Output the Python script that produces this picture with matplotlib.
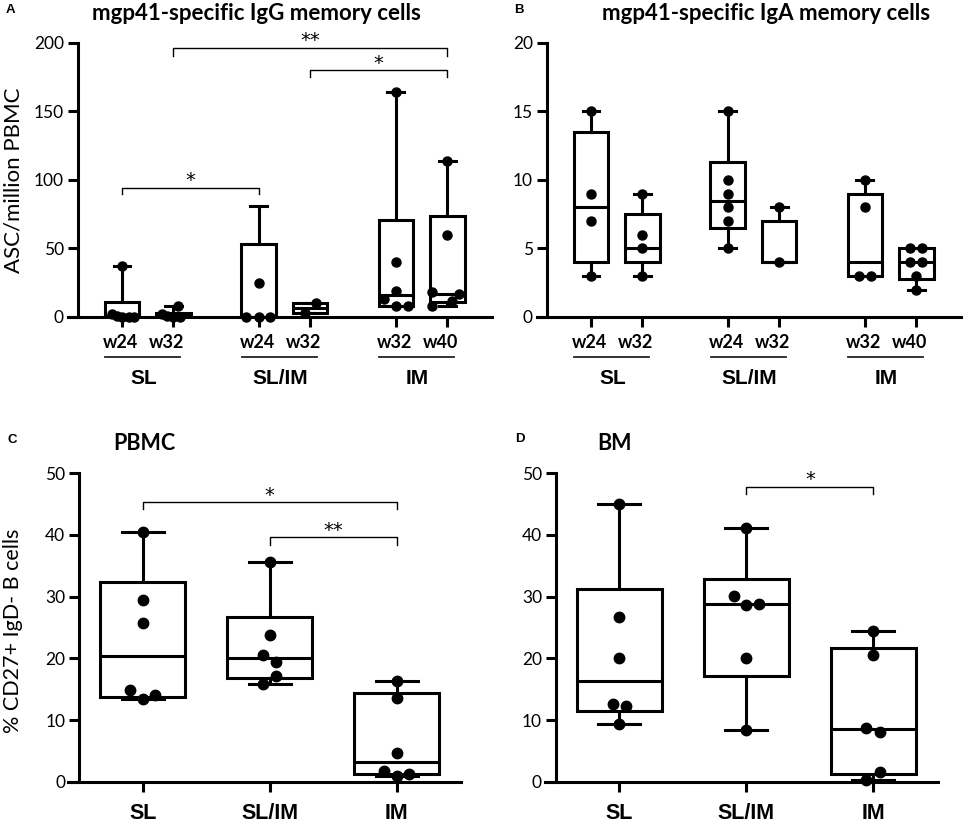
import matplotlib
matplotlib.use("Agg")
import matplotlib.pyplot as plt

plt.rcParams['font.family'] = ['Lato', 'DejaVu Sans']

# ---- Panel A: IgG memory cells (ASC/million PBMC) ----
week_labels = ["w24", "w32", "w24", "w32", "w32", "w40"]
group_labels = ["SL", "SL/IM", "IM"]

igg_points = [
    [37, 2, 1, 0, 0, 0],
    [8, 2, 1, 0, 0],
    [25, 0, 0, 0],
    [10, 3],
    [164, 40, 19, 13, 8, 8],
    [114, 60, 18, 17, 12, 8],
]
igg_jitter = [
    [0, -0.2, -0.1, 0, 0.13, 0.23],
    [0.08, -0.23, -0.13, 0, 0.13],
    [0, -0.25, 0, 0.22],
    [0.12, -0.1],
    [0, 0, 0, -0.23, 0, 0.23],
    [0, 0, -0.29, 0.23, 0.1, -0.29],
]
igg_min = [0, 0, 0, 3, 8, 8]
igg_q1 = [0, 0, 0, 3, 8, 11]
igg_med = [1, 1, 0, 6.5, 16, 17]
igg_q3 = [11, 3, 53, 10, 71, 74]
igg_max = [37, 8, 81, 10, 164, 114]

# ---- Panel B: IgA memory cells ----
iga_points = [
    [15, 9, 7, 3],
    [9, 6, 5, 3],
    [15, 10, 9, 8, 7, 5],
    [8, 4],
    [10, 8, 3, 3],
    [5, 5, 4, 4, 3, 2],
]
iga_jitter = [
    [0, 0, 0, 0],
    [0, 0, 0, 0],
    [0, 0, 0, 0, 0, 0],
    [0, 0],
    [0, 0, -0.12, 0.12],
    [-0.13, 0.12, -0.13, 0.12, 0, 0],
]
iga_min = [3, 3, 5, 4, 3, 2]
iga_q1 = [4, 4, 6.5, 4, 3, 2.75]
iga_med = [8, 5, 8.5, 4, 4, 4]
iga_q3 = [13.5, 7.5, 11.3, 7, 9, 5]
iga_max = [15, 9, 15, 8, 10, 5]

# ---- Panel C: PBMC % CD27+ IgD- B cells ----
cat_labels = ["SL", "SL/IM", "IM"]
pbmc_points = [
    [40.5, 29.5, 25.7, 14.8, 14.0, 13.4],
    [35.7, 23.8, 20.6, 19.4, 17.1, 15.8],
    [16.3, 13.6, 4.7, 1.8, 1.2, 0.9],
]
pbmc_jitter = [
    [0, 0, 0, -0.1, 0.1, 0],
    [0, 0, -0.05, 0.05, 0.05, -0.05],
    [0, 0, 0, -0.1, 0.1, 0],
]
pbmc_min = [13.4, 15.8, 0.9]
pbmc_q1 = [13.8, 16.8, 1.25]
pbmc_med = [20.3, 20.0, 3.2]
pbmc_q3 = [32.3, 26.7, 14.3]
pbmc_max = [40.5, 35.7, 16.3]

# ---- Panel D: BM ----
bm_points = [
    [45, 26.7, 20.1, 12.6, 12.2, 9.3],
    [41.2, 30.1, 28.7, 28.8, 20.1, 8.4],
    [24.5, 20.5, 8.7, 8.1, 1.6, 0.3],
]
bm_jitter = [
    [0, 0, 0, -0.05, 0.05, 0],
    [0, -0.1, 0, 0.1, 0, 0],
    [0, 0, -0.06, 0.05, 0.05, -0.06],
]
bm_min = [9.3, 8.4, 0.3]
bm_q1 = [11.45, 17.1, 1.2]
bm_med = [16.3, 28.8, 8.5]
bm_q3 = [31.3, 32.9, 21.6]
bm_max = [45, 41.2, 24.5]

pos6 = [0, 1, 2.66, 3.66, 5.33, 6.33]
pos3 = [0, 1, 2]

LW = 2.2
ARIAL = ['Liberation Sans', 'DejaVu Sans']


def draw_boxes(ax, positions, points, jitter, mins, q1s, meds, q3s, maxs, msize):
    stats = []
    for i in range(len(positions)):
        stats.append(dict(whislo=mins[i], q1=q1s[i], med=meds[i], q3=q3s[i], whishi=maxs[i]))
    ax.bxp(stats, positions=positions, widths=0.67, capwidths=0.33, showfliers=False,
           patch_artist=True,
           boxprops=dict(facecolor="white", edgecolor="black", linewidth=LW),
           whiskerprops=dict(color="black", linewidth=LW),
           capprops=dict(color="black", linewidth=LW),
           medianprops=dict(color="black", linewidth=LW))
    for p, vals, jit in zip(positions, points, jitter):
        xs = [p + j for j in jit]
        ax.plot(xs, vals, "o", color="black", markersize=msize, zorder=5, clip_on=False)


def style_axes(ax, xlim, spine_x, ymax, ystep):
    ax.set_xlim(*xlim)
    ax.set_ylim(0, ymax)
    ax.spines["top"].set_visible(False)
    ax.spines["right"].set_visible(False)
    ax.spines["left"].set_position(("data", spine_x))
    ax.spines["left"].set_linewidth(LW)
    ax.spines["bottom"].set_linewidth(LW)
    ax.set_yticks(range(0, ymax + 1, ystep))
    ax.tick_params(axis="both", length=7, width=LW, labelsize=12.5)
    ax.tick_params(axis="y", pad=3)
    ax.set_facecolor("none")


def bracket(ax, x1, x2, y, drop, label):
    ax.plot([x1, x1, x2, x2], [y - drop, y, y, y - drop], color="black", lw=1.0, clip_on=False)
    ax.annotate(label, xy=((x1 + x2) / 2, y), xytext=(0, 5), textcoords="offset points",
                ha="center", va="center", fontsize=14, family=['DejaVu Sans'],
                annotation_clip=False)


def group_axis(ax, positions):
    tr = ax.get_xaxis_transform()
    ax.set_xticks(positions)
    ax.set_xticklabels([])
    for k in range(3):
        left = positions[2 * k]
        center = left + 0.42
        ax.text(center - 0.45, -0.094, week_labels[2 * k], transform=tr, ha="center",
                va="center", fontsize=13, fontweight="bold")
        ax.text(center + 0.45, -0.094, week_labels[2 * k + 1], transform=tr, ha="center",
                va="center", fontsize=13, fontweight="bold")
        ax.plot([left - 0.33, left + 1.13], [-0.147, -0.147], transform=tr, color="#222222",
                lw=1.3, clip_on=False)
        ax.text(center, -0.224, group_labels[k], transform=tr, ha="center", va="center",
                fontsize=15, fontweight="bold", family=ARIAL)


fig = plt.figure(figsize=(9.65, 8.25), dpi=100)

# Panel A
axA = fig.add_axes([0.0705, 0.6158, 0.4394, 0.3321])
draw_boxes(axA, pos6, igg_points, igg_jitter, igg_min, igg_q1, igg_med, igg_q3, igg_max, 6.5)
style_axes(axA, (-1.05, 7.2), -0.86, 200, 50)
group_axis(axA, pos6)
bracket(axA, pos6[1], pos6[5], 196.5, 6, "**")
bracket(axA, pos6[3], pos6[5], 180, 5, "*")
bracket(axA, pos6[0], pos6[2], 94.5, 4.5, "*")

# Panel B
axB = fig.add_axes([0.5565, 0.6158, 0.4394, 0.3321])
draw_boxes(axB, pos6, iga_points, iga_jitter, iga_min, iga_q1, iga_med, iga_q3, iga_max, 6.5)
style_axes(axB, (-1.05, 7.2), -0.86, 20, 5)
group_axis(axB, pos6)

# Panel C
axC = fig.add_axes([0.0709, 0.0525, 0.4073, 0.3738])
draw_boxes(axC, pos3, pbmc_points, pbmc_jitter, pbmc_min, pbmc_q1, pbmc_med, pbmc_q3, pbmc_max, 7.5)
style_axes(axC, (-0.585, 2.51), -0.5, 50, 10)
axC.set_xticks(pos3)
axC.set_xticklabels(cat_labels, fontsize=15.5, fontweight="bold", family=ARIAL)
axC.tick_params(axis="x", pad=8)
bracket(axC, pos3[0], pos3[2], 45.3, 1.1, "*")
bracket(axC, pos3[1], pos3[2], 39.6, 1.2, "**")

# Panel D
axD = fig.add_axes([0.5648, 0.0525, 0.4073, 0.3738])
draw_boxes(axD, pos3, bm_points, bm_jitter, bm_min, bm_q1, bm_med, bm_q3, bm_max, 7.5)
style_axes(axD, (-0.585, 2.51), -0.5, 50, 10)
axD.set_xticks(pos3)
axD.set_xticklabels(cat_labels, fontsize=15.5, fontweight="bold", family=ARIAL)
axD.tick_params(axis="x", pad=8)
bracket(axD, pos3[1], pos3[2], 47.8, 1.2, "*")

# titles, letters and y labels
fig.text(0.2653, 0.984, "mgp41-specific IgG memory cells", ha="center", va="center",
         fontsize=16, fontweight="bold")
fig.text(0.794, 0.984, "mgp41-specific IgA memory cells", ha="center", va="center",
         fontsize=16, fontweight="bold")
fig.text(0.150, 0.463, "PBMC", ha="center", va="center", fontsize=15.5, fontweight="bold")
fig.text(0.637, 0.463, "BM", ha="center", va="center", fontsize=15.5, fontweight="bold")

for x, y, letter in [(0.0104, 0.988, "A"), (0.538, 0.988, "B"),
                     (0.0124, 0.4667, "C"), (0.539, 0.468, "D")]:
    fig.text(x, y, letter, ha="center", va="center", fontsize=9.5, fontweight="bold",
             family=ARIAL)

fig.text(0.0135, 0.7818, "ASC/million PBMC", rotation=90, ha="center", va="center", fontsize=16)
fig.text(0.0135, 0.2352, "% CD27+ IgD- B cells", rotation=90, ha="center", va="center", fontsize=15.5)

fig.savefig("out.png", dpi=100, facecolor="white")
